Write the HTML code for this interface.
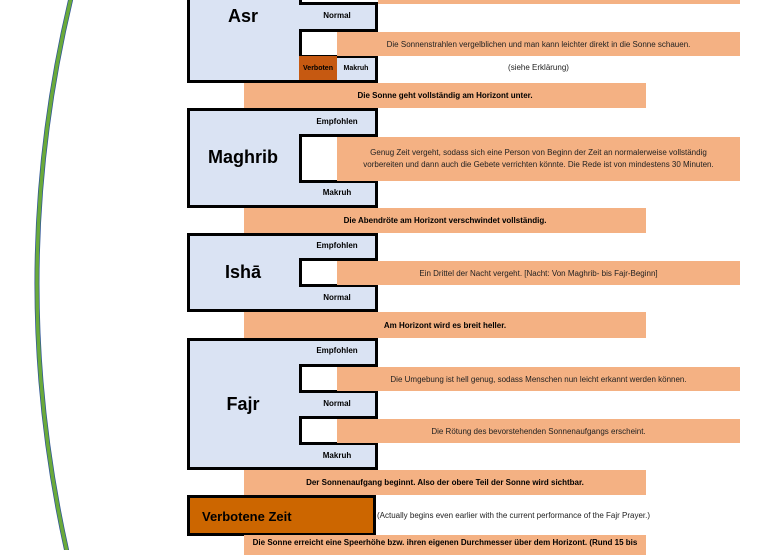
<!DOCTYPE html>
<html><head><meta charset="utf-8"><style>
body{margin:0;width:759px;height:550px;background:#fff;position:relative;overflow:hidden;font-family:"Liberation Sans",sans-serif;}
.a{position:absolute;box-sizing:border-box;}
.box{background:#dae3f3;border:3px solid #000;}
.notch{background:#fff;border:3px solid #000;border-right:none;}
.band{background:#f4b183;display:flex;align-items:center;justify-content:center;text-align:center;font-size:8px;color:#222;}
.bb{font-weight:bold;color:#000;}
.lbl{font-size:8px;font-weight:bold;text-align:center;width:76px;}
.title{font-size:18px;font-weight:bold;text-align:center;width:112px;}
</style></head><body>
<svg class="a" style="left:0;top:0" width="180" height="550"><path d="M71,-2 Q5,275 67,552" fill="none" stroke="#2f5597" stroke-width="5"/><path d="M71,-2 Q5,275 67,552" fill="none" stroke="#6aaa3a" stroke-width="3.5"/></svg>

<div class="a band" style="left:337px;top:0;width:403px;height:4px"></div>

<!-- Asr -->
<div class="a box" style="left:187px;top:-3px;width:191px;height:86px"></div>
<div class="a notch" style="left:299px;top:-3px;width:79px;height:8px"></div>
<div class="a notch" style="left:299px;top:29px;width:79px;height:29px"></div>
<div class="a" style="left:299px;top:56px;width:38px;height:24px;background:#c65911;font-size:7px;font-weight:bold;display:flex;align-items:center;justify-content:center">Verboten</div>
<div class="a" style="left:337px;top:56px;width:38px;height:24px;font-size:7px;font-weight:bold;display:flex;align-items:center;justify-content:center">Makruh</div>
<div class="a title" style="left:187px;top:6px">Asr</div>
<div class="a lbl" style="left:299px;top:11px">Normal</div>
<div class="a band" style="left:337px;top:32px;width:403px;height:24px">Die Sonnenstrahlen vergelblichen und man kann leichter direkt in die Sonne schauen.</div>
<div class="a" style="left:337px;top:63px;width:403px;text-align:center;font-size:8px;color:#222">(siehe Erklärung)</div>
<div class="a band bb" style="left:244px;top:83px;width:402px;height:25px">Die Sonne geht vollständig am Horizont unter.</div>

<!-- Maghrib -->
<div class="a box" style="left:187px;top:108px;width:191px;height:100px"></div>
<div class="a notch" style="left:299px;top:134px;width:79px;height:49px"></div>
<div class="a title" style="left:187px;top:147px">Maghrib</div>
<div class="a lbl" style="left:299px;top:117px">Empfohlen</div>
<div class="a lbl" style="left:299px;top:188px">Makruh</div>
<div class="a band" style="left:337px;top:137px;width:403px;height:44px;line-height:12px">Genug Zeit vergeht, sodass sich eine Person von Beginn der Zeit an normalerweise vollständig<br>vorbereiten und dann auch die Gebete verrichten könnte. Die Rede ist von mindestens 30 Minuten.</div>
<div class="a band bb" style="left:244px;top:208px;width:402px;height:25px">Die Abendröte am Horizont verschwindet vollständig.</div>

<!-- Isha -->
<div class="a box" style="left:187px;top:233px;width:191px;height:79px"></div>
<div class="a notch" style="left:299px;top:258px;width:79px;height:29px"></div>
<div class="a title" style="left:187px;top:262px">Ishā</div>
<div class="a lbl" style="left:299px;top:241px">Empfohlen</div>
<div class="a lbl" style="left:299px;top:293px">Normal</div>
<div class="a band" style="left:337px;top:261px;width:403px;height:24px">Ein Drittel der Nacht vergeht. [Nacht: Von Maghrib- bis Fajr-Beginn]</div>
<div class="a band bb" style="left:244px;top:312px;width:402px;height:26px">Am Horizont wird es breit heller.</div>

<!-- Fajr -->
<div class="a box" style="left:187px;top:338px;width:191px;height:132px"></div>
<div class="a notch" style="left:299px;top:364px;width:79px;height:29px"></div>
<div class="a notch" style="left:299px;top:416px;width:79px;height:29px"></div>
<div class="a title" style="left:187px;top:394px">Fajr</div>
<div class="a lbl" style="left:299px;top:346px">Empfohlen</div>
<div class="a lbl" style="left:299px;top:399px">Normal</div>
<div class="a lbl" style="left:299px;top:451px">Makruh</div>
<div class="a band" style="left:337px;top:367px;width:403px;height:24px">Die Umgebung ist hell genug, sodass Menschen nun leicht erkannt werden können.</div>
<div class="a band" style="left:337px;top:419px;width:403px;height:24px">Die Rötung des bevorstehenden Sonnenaufgangs erscheint.</div>
<div class="a band bb" style="left:244px;top:470px;width:402px;height:25px">Der Sonnenaufgang beginnt. Also der obere Teil der Sonne wird sichtbar.</div>

<!-- Verbotene Zeit -->
<div class="a" style="left:187px;top:495px;width:189px;height:41px;background:#cc6600;border:3px solid #000;font-size:13px;font-weight:bold;padding:11px 0 0 12px">Verbotene Zeit</div>
<div class="a" style="left:377px;top:511px;font-size:8px;color:#222">(Actually begins even earlier with the current performance of the Fajr Prayer.)</div>
<div class="a band bb" style="left:244px;top:535px;width:402px;height:20px;align-items:flex-start;padding-top:3px">Die Sonne erreicht eine Speerhöhe bzw. ihren eigenen Durchmesser über dem Horizont. (Rund 15 bis</div>
</body></html>
